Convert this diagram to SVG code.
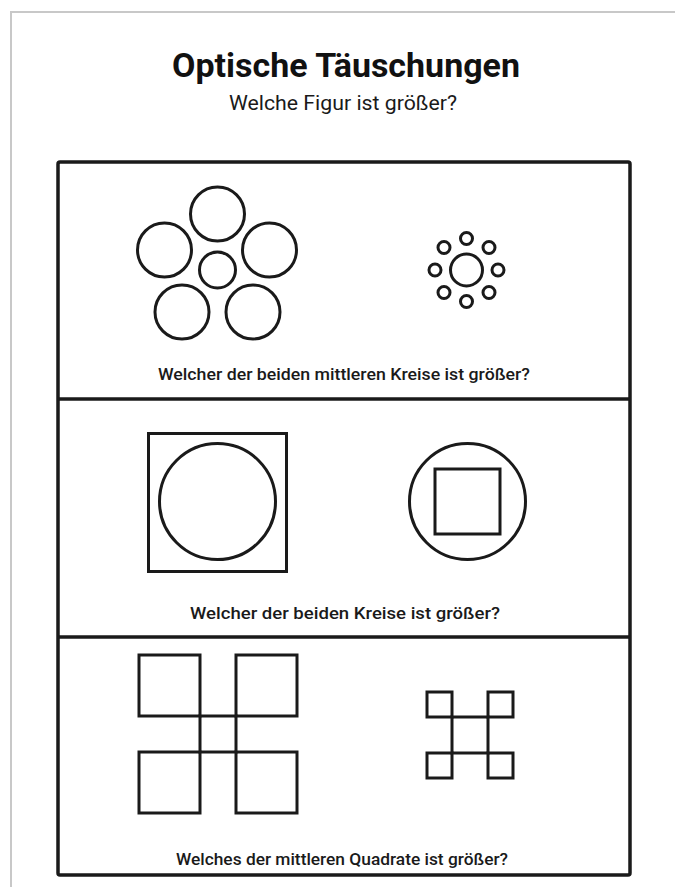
<svg xmlns="http://www.w3.org/2000/svg" width="675" height="887" viewBox="0 0 675 887">
<style>
.fig{fill:none;stroke:#1a1a1a;stroke-width:3}
.thin{fill:none;stroke:#1a1a1a;stroke-width:3}
.cap{font-family:Roboto,"Liberation Sans",sans-serif;font-size:16px;font-weight:500;fill:#1a1a1a;text-anchor:middle}
</style>
<rect width="675" height="887" fill="#ffffff"/>
<path d="M11 887 V12 H675" fill="none" stroke="#c8c8c8" stroke-width="2"/>
<g id="title">
<text x="346" y="77" font-family="Roboto,'Liberation Sans',sans-serif" font-size="33" font-weight="bold" fill="#111" text-anchor="middle" textLength="348" lengthAdjust="spacingAndGlyphs">Optische Täuschungen</text>
<text x="343" y="110" font-family="Roboto,'Liberation Sans',sans-serif" font-size="20" fill="#1a1a1a" text-anchor="middle" textLength="228" lengthAdjust="spacingAndGlyphs">Welche Figur ist größer?</text>
</g>
<g id="frame">
<rect x="58" y="162" width="572" height="713" rx="2" fill="none" stroke="#1a1a1a" stroke-width="3.5"/>
<line x1="58" y1="399" x2="630" y2="399" stroke="#1a1a1a" stroke-width="3.5"/>
<line x1="58" y1="637" x2="630" y2="637" stroke="#1a1a1a" stroke-width="3.5"/>
</g>
<g id="panel1">
<g id="ebbinghaus-large">
<circle class="fig" cx="217.5" cy="270" r="18"/>
<circle class="fig" cx="217.5" cy="214" r="27"/>
<circle class="fig" cx="164.5" cy="250" r="27"/>
<circle class="fig" cx="269.5" cy="250" r="27"/>
<circle class="fig" cx="182" cy="312" r="27"/>
<circle class="fig" cx="253" cy="312" r="27"/>
</g>
<g id="ebbinghaus-small">
<circle class="fig" cx="466.5" cy="270" r="16"/>
<circle class="thin" cx="466.5" cy="238.5" r="6"/>
<circle class="thin" cx="489" cy="247.5" r="6"/>
<circle class="thin" cx="498" cy="270" r="6"/>
<circle class="thin" cx="489" cy="292.5" r="6"/>
<circle class="thin" cx="466.5" cy="301.5" r="6"/>
<circle class="thin" cx="444" cy="292.5" r="6"/>
<circle class="thin" cx="435" cy="270" r="6"/>
<circle class="thin" cx="444" cy="247.5" r="6"/>
</g>
<text class="cap" x="344" y="380" textLength="372" lengthAdjust="spacingAndGlyphs">Welcher der beiden mittleren Kreise ist größer?</text>
</g>
<g id="panel2">
<g id="square-circle">
<rect class="fig" x="148.5" y="433.5" width="138" height="138"/>
<circle class="fig" cx="217.5" cy="501.5" r="58"/>
</g>
<g id="circle-square">
<circle class="fig" cx="467.5" cy="501.5" r="58"/>
<rect class="fig" x="435" y="469" width="65" height="65"/>
</g>
<text class="cap" x="345" y="619" textLength="310" lengthAdjust="spacingAndGlyphs">Welcher der beiden Kreise ist größer?</text>
</g>
<g id="panel3">
<g id="squares-large">
<rect class="fig" x="139" y="655" width="61" height="61"/>
<rect class="fig" x="236" y="655" width="61" height="61"/>
<rect class="fig" x="139" y="752" width="61" height="61"/>
<rect class="fig" x="236" y="752" width="61" height="61"/>
<rect class="fig" x="200" y="716" width="36" height="36"/>
</g>
<g id="squares-small">
<rect class="fig" x="427" y="692" width="25" height="25"/>
<rect class="fig" x="488" y="692" width="25" height="25"/>
<rect class="fig" x="427" y="753" width="25" height="25"/>
<rect class="fig" x="488" y="753" width="25" height="25"/>
<rect class="fig" x="452" y="717" width="36" height="36"/>
</g>
<text class="cap" x="342" y="865" textLength="332" lengthAdjust="spacingAndGlyphs">Welches der mittleren Quadrate ist größer?</text>
</g>
</svg>
